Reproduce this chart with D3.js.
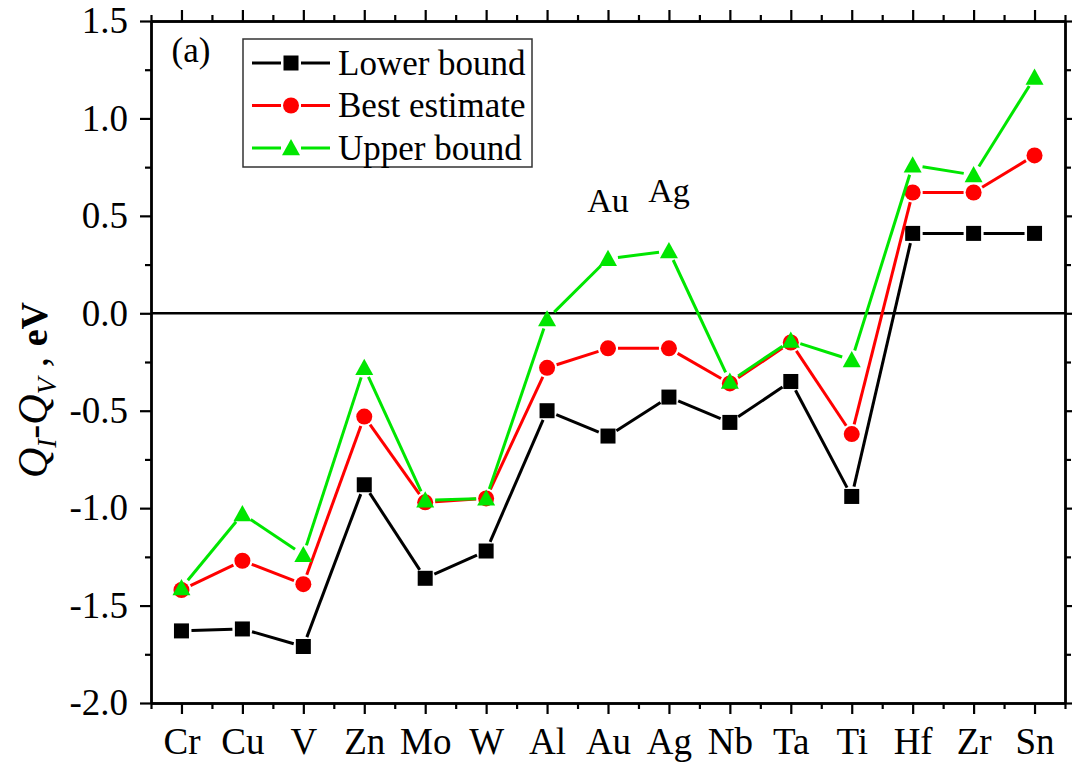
<!DOCTYPE html>
<html>
<head>
<meta charset="utf-8">
<script src="https://cdn.jsdelivr.net/npm/d3@7"></script>
<style>
  html, body { margin: 0; padding: 0; background: #fff; }
  svg { display: block; font-family: "Liberation Serif", "Times New Roman", serif; }
</style>
</head>
<body>
<svg id="chart" width="1072" height="767"></svg>
<script>
const categories = ["Cr","Cu","V","Zn","Mo","W","Al","Au","Ag","Nb","Ta","Ti","Hf","Zr","Sn"];
const lowerBound   = [-1.63,-1.62,-1.71,-0.88,-1.36,-1.22,-0.50,-0.63,-0.43,-0.56,-0.35,-0.94,0.41,0.41,0.41];
const bestEstimate = [-1.42,-1.27,-1.39,-0.53,-0.97,-0.95,-0.28,-0.18,-0.18,-0.36,-0.15,-0.62,0.62,0.62,0.81];
const upperBound   = [-1.41,-1.03,-1.24,-0.28,-0.96,-0.95,-0.03,0.28,0.32,-0.35,-0.14,-0.24,0.76,0.71,1.21];
const yTicks = [-2.0,-1.5,-1.0,-0.5,0.0,0.5,1.0,1.5];
const seriesNames = ["Lower bound","Best estimate","Upper bound"];
const annotations = [{label:"Au", idx:7, value:0.52}, {label:"Ag", idx:8, value:0.57}];

const series = [
  {name: seriesNames[0], values: lowerBound,   color: "#000000", shape: "square"},
  {name: seriesNames[1], values: bestEstimate, color: "#ff0000", shape: "circle"},
  {name: seriesNames[2], values: upperBound,   color: "#00e600", shape: "triangle"}
];

const svg = d3.select("#chart");
const L = 151, R = 1065, T = 21, B = 703;
const x = d3.scaleLinear().domain([-0.5, categories.length - 0.5]).range([L, R]);
const y = d3.scaleLinear().domain([-2.0, 1.5]).range([B, T]);

const FS = 37;

// zero line
svg.append("line").attr("x1", L).attr("x2", R).attr("y1", y(0)).attr("y2", y(0))
  .attr("stroke", "#000").attr("stroke-width", 2.6);

// markers
function drawMarker(g, shape, cx, cy, color) {
  if (shape === "square") {
    g.append("rect").attr("x", cx - 7.5).attr("y", cy - 7.5).attr("width", 15).attr("height", 15).attr("fill", color);
  } else if (shape === "circle") {
    g.append("circle").attr("cx", cx).attr("cy", cy).attr("r", 8).attr("fill", color);
  } else {
    const s = 9;
    g.append("path").attr("d", `M${cx},${cy - s}L${cx + s},${cy + s * 0.8}L${cx - s},${cy + s * 0.8}Z`).attr("fill", color);
  }
}

const gap = 10;
series.forEach(s => {
  const g = svg.append("g");
  const pts = s.values.map((v, i) => [x(i), y(v)]);
  for (let i = 0; i < pts.length - 1; i++) {
    const [x1, y1] = pts[i], [x2, y2] = pts[i + 1];
    const dx = x2 - x1, dy = y2 - y1, len = Math.hypot(dx, dy);
    if (len <= 2 * gap) continue;
    const ux = dx / len, uy = dy / len;
    g.append("line")
      .attr("x1", x1 + ux * gap).attr("y1", y1 + uy * gap)
      .attr("x2", x2 - ux * gap).attr("y2", y2 - uy * gap)
      .attr("stroke", s.color).attr("stroke-width", 3);
  }
  pts.forEach(p => drawMarker(g, s.shape, p[0], p[1], s.color));
});

// axes
const xMajor = d3.range(categories.length);
const xMinor = d3.range(categories.length + 1).map(d => d - 0.5);
const yMinor = d3.range(-2.0, 1.5001, 0.25).filter(v => Math.abs(v * 2 - Math.round(v * 2)) > 1e-6);

function styleAxis(g) {
  g.select(".domain").attr("stroke", "#000").attr("stroke-width", 2.4);
  g.selectAll(".tick line").attr("stroke", "#000").attr("stroke-width", 2.2);
  g.selectAll(".tick text").attr("fill", "#000").style("font-size", FS + "px")
    .style("font-family", "'Liberation Serif', serif");
}

// bottom
const gb = svg.append("g").attr("transform", `translate(0,${B})`)
  .call(d3.axisBottom(x).tickValues(xMajor).tickFormat(i => categories[i]).tickSize(11).tickPadding(13).tickSizeOuter(0));
styleAxis(gb);
gb.selectAll(".tick text").attr("dy", "0.72em");
svg.append("g").attr("transform", `translate(0,${B})`)
  .call(d3.axisBottom(x).tickValues(xMinor).tickFormat("").tickSize(6).tickSizeOuter(0))
  .call(styleAxis);
// top
svg.append("g").attr("transform", `translate(0,${T})`)
  .call(d3.axisTop(x).tickValues(xMajor).tickFormat("").tickSize(11).tickSizeOuter(0))
  .call(styleAxis);
svg.append("g").attr("transform", `translate(0,${T})`)
  .call(d3.axisTop(x).tickValues(xMinor).tickFormat("").tickSize(6).tickSizeOuter(0))
  .call(styleAxis);
// left
const gl = svg.append("g").attr("transform", `translate(${L},0)`)
  .call(d3.axisLeft(y).tickValues(yTicks).tickFormat(d3.format(".1f")).tickSize(11).tickPadding(12).tickSizeOuter(0));
styleAxis(gl);
gl.selectAll(".tick text").text(d => d3.format(".1f")(d).replace("−", "-"));
svg.append("g").attr("transform", `translate(${L},0)`)
  .call(d3.axisLeft(y).tickValues(yMinor).tickFormat("").tickSize(6).tickSizeOuter(0))
  .call(styleAxis);
// right
svg.append("g").attr("transform", `translate(${R},0)`)
  .call(d3.axisRight(y).tickValues(yTicks).tickFormat("").tickSize(11).tickSizeOuter(0))
  .call(styleAxis);
svg.append("g").attr("transform", `translate(${R},0)`)
  .call(d3.axisRight(y).tickValues(yMinor).tickFormat("").tickSize(6).tickSizeOuter(0))
  .call(styleAxis);

// y label
const ylab = svg.append("text")
  .attr("transform", `translate(47,390) rotate(-90)`)
  .attr("text-anchor", "middle")
  .style("font-size", "42px").attr("fill", "#000");
ylab.append("tspan").style("font-style", "italic").text("Q");
ylab.append("tspan").style("font-style", "italic").style("font-size", "27px").attr("dy", 9).text("I");
ylab.append("tspan").attr("dy", -9).text("-");
ylab.append("tspan").style("font-style", "italic").text("Q");
ylab.append("tspan").style("font-style", "italic").style("font-size", "27px").attr("dy", 9).text("V");
ylab.append("tspan").attr("dy", -9).text(" , ");
ylab.append("tspan").style("font-weight", "bold").style("font-size", "38px").text("eV");

// panel label
svg.append("text").attr("x", 191).attr("y", 62).attr("text-anchor", "middle")
  .style("font-size", "35px").attr("fill", "#000").text("(a)");

// annotations
annotations.forEach(a => {
  svg.append("text").attr("x", x(a.idx)).attr("y", y(a.value)).attr("text-anchor", "middle")
    .style("font-size", "34px").attr("fill", "#000").text(a.label);
});

// legend
const lg = svg.append("g");
lg.append("rect").attr("x", 243).attr("y", 39).attr("width", 289).attr("height", 128)
  .attr("fill", "#fff").attr("stroke", "#333").attr("stroke-width", 1.5);
series.forEach((s, i) => {
  const cy = 63 + i * 42.5;
  lg.append("line").attr("x1", 252).attr("x2", 281).attr("y1", cy).attr("y2", cy).attr("stroke", s.color).attr("stroke-width", 3);
  lg.append("line").attr("x1", 301).attr("x2", 330).attr("y1", cy).attr("y2", cy).attr("stroke", s.color).attr("stroke-width", 3);
  drawMarker(lg, s.shape, 291, cy, s.color);
  lg.append("text").attr("x", 338).attr("y", cy).attr("dy", "0.34em")
    .style("font-size", "35px").attr("fill", "#000").text(s.name);
});
</script>
</body>
</html>
